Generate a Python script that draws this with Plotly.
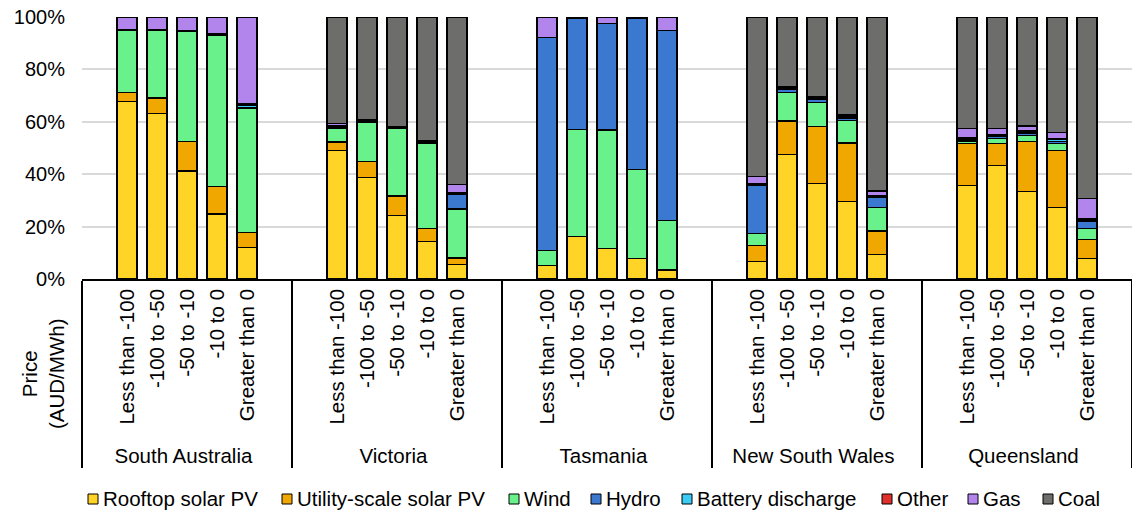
import plotly.graph_objects as go

regions = ["South Australia", "Victoria", "Tasmania", "New South Wales", "Queensland"]
bands = ["Less than -100", "-100 to -50", "-50 to -10", "-10 to 0", "Greater than 0"]

rooftop = [67.6, 63.1, 41.2, 24.8, 12.0,
           49.1, 38.7, 24.2, 14.2, 5.5,
           5.3, 16.2, 11.7, 7.9, 3.4,
           6.6, 47.6, 36.6, 29.6, 9.4,
           35.8, 43.4, 33.3, 27.2, 7.9]
utility = [3.5, 6.0, 11.3, 10.4, 5.6,
           3.2, 6.3, 7.5, 5.1, 2.5,
           0, 0, 0, 0, 0,
           6.1, 12.7, 21.6, 22.3, 8.9,
           15.8, 8.3, 19.1, 21.9, 7.1]
wind = [23.7, 25.7, 41.9, 57.8, 47.7,
        5.3, 14.9, 25.8, 32.6, 18.7,
        5.6, 40.9, 45.2, 33.8, 18.9,
        4.6, 10.8, 9.2, 8.5, 8.9,
        1.0, 1.8, 2.3, 2.6, 4.3]
hydro = [0, 0, 0, 0, 0,
         0.4, 0.2, 0.1, 0.3, 5.7,
         81.2, 42.3, 40.6, 57.9, 72.6,
         18.3, 1.2, 1.0, 1.0, 3.9,
         0.4, 0.8, 0.8, 0.9, 2.6]
battery = [0.2, 0.2, 0.2, 0.3, 1.1,
           0.3, 0.2, 0.1, 0.2, 0.2,
           0, 0.2, 0, 0.1, 0,
           0.5, 0.4, 0.3, 0.4, 0.2,
           0.3, 0.4, 0.4, 0.5, 0.5]
other = [0.2, 0.1, 0.1, 0.2, 0.5,
         0.3, 0.2, 0.2, 0.3, 0.3,
         0, 0.2, 0.1, 0.1, 0,
         0.5, 0.6, 0.5, 0.6, 0.4,
         0.5, 0.6, 0.6, 0.6, 0.5]
gas = [4.8, 4.9, 5.3, 6.5, 33.1,
       0.8, 0.2, 0.1, 0.2, 3.1,
       7.9, 0.2, 2.4, 0.2, 5.1,
       2.6, 0.3, 0.3, 0.3, 1.9,
       3.6, 2.0, 1.9, 2.1, 7.9]
coal = [0, 0, 0, 0, 0,
        40.6, 39.3, 42.0, 47.1, 64.0,
        0, 0, 0, 0, 0,
        60.8, 26.4, 30.5, 37.3, 66.4,
        42.6, 42.7, 41.6, 44.2, 69.2]

series_names = ["Rooftop solar PV", "Utility-scale solar PV", "Wind", "Hydro",
                "Battery discharge", "Other", "Gas", "Coal"]
series_values = [rooftop, utility, wind, hydro, battery, other, gas, coal]
series_colors = ["#FFD426", "#F0A800", "#69F28C", "#3B78D0",
                 "#3ACCF5", "#E0302B", "#B185EB", "#6D6E6C"]

# layout constants (pixels)
FIG_W, FIG_H = 1132, 512
M_L, M_R, M_T, M_B = 82, 0, 17, 233
PLOT_W = FIG_W - M_L - M_R
PLOT_H = FIG_H - M_T - M_B
LEGEND_BOX_PX = [88, 282, 509, 591, 682, 882, 968, 1043]
LEGEND_Y_PX = 499
FONT = "Liberation Sans, Arial, sans-serif"
FS = 20.5

# each region gets a blank slot before and after its five price bands (as in the original)
n_b = len(bands)
x_outer, x_inner = [], []
for r in regions:
    for b in [" "] + bands + ["  "]:
        x_outer.append(r)
        x_inner.append(b)


def padded(vals):
    out = []
    for i in range(len(regions)):
        out += [None] + vals[i * n_b:(i + 1) * n_b] + [None]
    return out


fig = go.Figure()
for name, vals, col in zip(series_names, series_values, series_colors):
    fig.add_trace(go.Bar(
        name=name, x=[x_outer, x_inner], y=padded(vals),
        marker=dict(color=col, line=dict(color="#000000", width=1.2)),
        showlegend=False,
    ))

fig.update_layout(
    width=FIG_W, height=FIG_H,
    barmode="stack", bargap=1 / 3,
    plot_bgcolor="white", paper_bgcolor="white",
    margin=dict(l=M_L, r=M_R, t=M_T, b=M_B, autoexpand=False),
    font=dict(family=FONT, size=FS, color="#000000"),
    showlegend=False,
)
fig.update_yaxes(range=[0, 100], dtick=20, ticksuffix="%", showgrid=True,
                 gridcolor="#D9D9D9", gridwidth=1.5, zeroline=False,
                 showline=False, ticks="", tickfont=dict(size=20),
                 ticklabelstandoff=16)
fig.update_xaxes(type="multicategory", tickangle=-90, showline=True,
                 linecolor="#000000", linewidth=1.5, showdividers=True,
                 dividercolor="#000000", dividerwidth=1.5,
                 tickfont=dict(size=FS), ticks="")

fig.add_annotation(text="Price<br>(AUD/MWh)", textangle=-90,
                   xref="paper", yref="paper",
                   x=(43 - M_L) / PLOT_W, y=-(374 - (M_T + PLOT_H)) / PLOT_H,
                   showarrow=False, font=dict(size=FS), xanchor="center",
                   yanchor="middle")

# legend drawn as boxes + real text
ly = -(LEGEND_Y_PX - (M_T + PLOT_H)) / PLOT_H
half = 5 / PLOT_H
for name, col, bx in zip(series_names, series_colors, LEGEND_BOX_PX):
    x0 = (bx - M_L) / PLOT_W
    x1 = (bx + 10 - M_L) / PLOT_W
    fig.add_shape(type="rect", xref="paper", yref="paper",
                  x0=x0, x1=x1, y0=ly - half, y1=ly + half,
                  fillcolor=col, line=dict(color="#000000", width=1))
    fig.add_annotation(text=name, xref="paper", yref="paper",
                       x=(bx + 13 - M_L) / PLOT_W, y=ly, xanchor="left",
                       yanchor="middle", showarrow=False,
                       font=dict(size=FS))

fig.write_html("out.html", config={"displayModeBar": False},
               post_script="document.body.style.margin='0px';")
